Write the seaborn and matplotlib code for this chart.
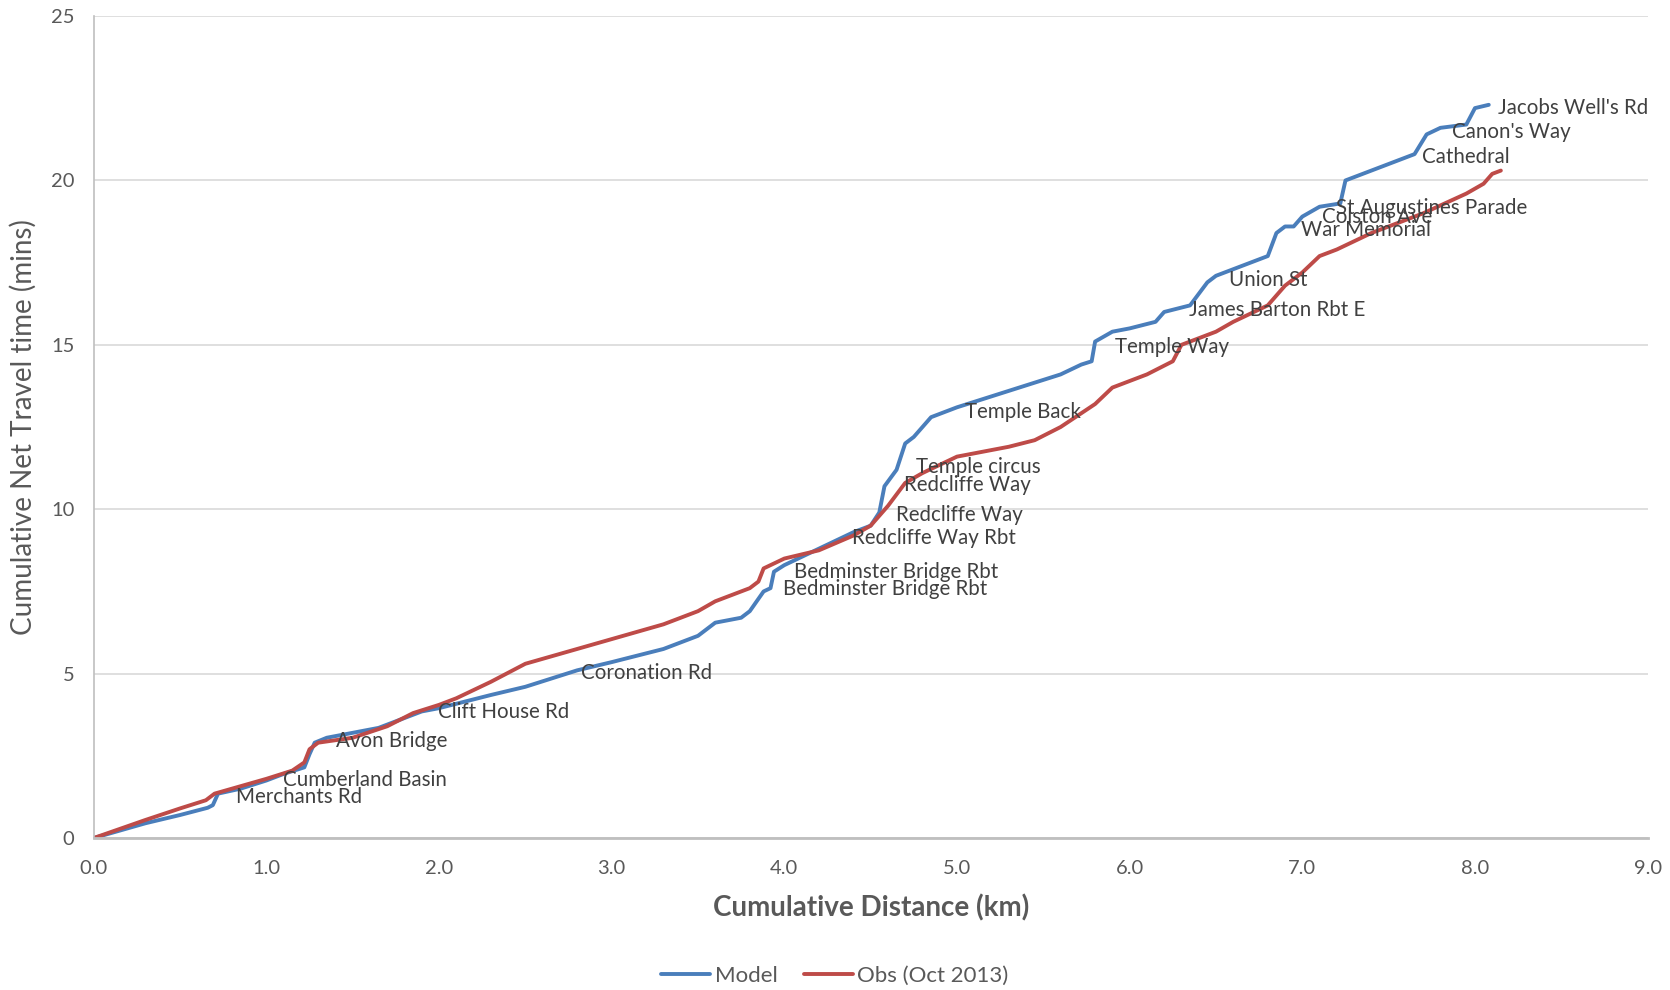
import numpy as np
import pandas as pd
import matplotlib
matplotlib.use("Agg")
import matplotlib.pyplot as plt
import seaborn as sns

# Modelled cumulative travel time along the route
model_km = [0.00, 0.30, 0.50, 0.66, 0.69, 0.72, 0.85, 1.00, 1.10, 1.22, 1.25, 1.28, 1.35,
            1.50, 1.65, 1.80, 1.90, 2.00, 2.30, 2.50, 2.80, 3.00, 3.30, 3.50, 3.60,
            3.75, 3.80, 3.88, 3.92, 3.94, 4.00, 4.20, 4.40, 4.50, 4.55, 4.58, 4.65,
            4.70, 4.75, 4.85, 5.00, 5.30, 5.60, 5.72, 5.78, 5.80, 5.90, 6.00, 6.15,
            6.20, 6.35, 6.45, 6.50, 6.70, 6.80, 6.85, 6.90, 6.95, 7.00, 7.10, 7.22,
            7.25, 7.40, 7.65, 7.72, 7.80, 7.95, 8.00, 8.08]
model_min = [0.00, 0.45, 0.70, 0.92, 1.00, 1.35, 1.50, 1.75, 1.95, 2.15, 2.55, 2.90, 3.05,
             3.20, 3.35, 3.65, 3.85, 3.95, 4.35, 4.60, 5.10, 5.35, 5.75, 6.15, 6.55,
             6.70, 6.90, 7.50, 7.60, 8.10, 8.30, 8.80, 9.30, 9.50, 9.90, 10.70, 11.20,
             12.00, 12.20, 12.80, 13.10, 13.60, 14.10, 14.40, 14.50, 15.10, 15.40, 15.50, 15.70,
             16.00, 16.20, 16.90, 17.10, 17.50, 17.70, 18.40, 18.60, 18.60, 18.90, 19.20, 19.30,
             20.00, 20.30, 20.80, 21.40, 21.60, 21.70, 22.20, 22.30]

# Observed cumulative travel time (Oct 2013 survey)
obs_km = [0.00, 0.30, 0.50, 0.65, 0.70, 0.80, 1.00, 1.15, 1.22, 1.25, 1.30, 1.50, 1.70,
          1.85, 2.00, 2.10, 2.30, 2.50, 2.70, 3.00, 3.30, 3.50, 3.60, 3.80, 3.85,
          3.88, 4.00, 4.20, 4.40, 4.50, 4.60, 4.70, 4.80, 5.00, 5.30, 5.45, 5.60,
          5.80, 5.90, 6.10, 6.25, 6.30, 6.50, 6.60, 6.80, 6.90, 7.00, 7.10, 7.20,
          7.40, 7.70, 7.95, 8.05, 8.10, 8.15]
obs_min = [0.00, 0.55, 0.90, 1.15, 1.35, 1.50, 1.80, 2.05, 2.30, 2.70, 2.90, 3.05, 3.40,
           3.80, 4.05, 4.25, 4.75, 5.30, 5.60, 6.05, 6.50, 6.90, 7.20, 7.60, 7.80,
           8.20, 8.50, 8.75, 9.20, 9.50, 10.10, 10.80, 11.10, 11.60, 11.90, 12.10, 12.50,
           13.20, 13.70, 14.10, 14.50, 15.00, 15.40, 15.70, 16.20, 16.80, 17.20, 17.70, 17.90,
           18.40, 19.00, 19.60, 19.90, 20.20, 20.30]

# Timing points along the route
stop_names = ["Merchants Rd", "Cumberland Basin", "Avon Bridge", "Clift House Rd",
              "Coronation Rd", "Bedminster Bridge Rbt", "Bedminster Bridge Rbt",
              "Redcliffe Way Rbt", "Redcliffe Way", "Redcliffe Way", "Temple circus",
              "Temple Back", "Temple Way", "James Barton Rbt E", "Union St",
              "War Memorial", "Colston Ave", "St Augustines Parade", "Cathedral",
              "Canon's Way", "Jacobs Well's Rd"]
stop_km = [0.80, 1.07, 1.38, 1.97, 2.80, 3.97, 4.03, 4.37, 4.62, 4.67, 4.74,
           5.02, 5.89, 6.32, 6.55, 6.97, 7.09, 7.17, 7.67, 7.84, 8.11]
stop_min = [1.26, 1.75, 2.95, 3.82, 5.02, 7.58, 8.10, 9.13, 9.81, 10.75, 11.27,
            12.95, 14.93, 16.06, 16.97, 18.50, 18.88, 19.17, 20.70, 21.47, 22.20]

series_names = ["Model", "Obs (Oct 2013)"]
series_colors = ["#4A7EBB", "#BE4B48"]

df = pd.concat([
    pd.DataFrame({"km": model_km, "mins": model_min, "series": series_names[0]}),
    pd.DataFrame({"km": obs_km, "mins": obs_min, "series": series_names[1]}),
], ignore_index=True)

sns.set_theme(style="white")
plt.rcParams["font.family"] = ["Lato", "DejaVu Sans"]

fig = plt.figure(figsize=(16.7, 9.9), dpi=100)
ax = fig.add_axes([0.0561, 0.1535, 0.9305, 0.8303])

sns.lineplot(data=df, x="km", y="mins", hue="series", hue_order=series_names,
             palette=series_colors, linewidth=2.8, sort=False, estimator=None,
             ax=ax, legend=True, solid_joinstyle="round", solid_capstyle="round")

text_color = "#404040"
for name, x, y in zip(stop_names, stop_km, stop_min):
    ax.annotate(name, (x, y), xytext=(3, 0), textcoords="offset points",
                ha="left", va="center", fontsize=14.8, color=text_color)

ax.set_xlim(0, 9)
ax.set_ylim(0, 25)
ax.set_xticks(np.arange(0, 9.5, 1.0))
ax.set_xticklabels([f"{v:.1f}" for v in np.arange(0, 9.5, 1.0)])
ax.set_yticks(np.arange(0, 26, 5))
ax.tick_params(axis="both", labelsize=14.5, labelcolor="#595959", length=0)
ax.tick_params(axis="x", pad=16)
ax.tick_params(axis="y", pad=14)

ax.grid(axis="y", color="#D9D9D9", linewidth=1.2)
ax.grid(axis="x", visible=False)
for side in ["top", "right"]:
    ax.spines[side].set_visible(False)
ax.spines["left"].set_color("#BFBFBF")
ax.spines["left"].set_linewidth(1.2)
ax.spines["bottom"].set_color("#BFBFBF")
ax.spines["bottom"].set_linewidth(2.0)

ax.set_xlabel("Cumulative Distance (km)", fontsize=20, fontweight="bold",
              color="#595959", labelpad=12)
ax.set_ylabel("Cumulative Net Travel time (mins)", fontsize=20,
              color="#595959", labelpad=10)

handles, labels = ax.get_legend_handles_labels()
ax.legend(handles, labels, loc="center", bbox_to_anchor=(0.5, 0.014),
          bbox_transform=fig.transFigure, ncol=2, frameon=False,
          fontsize=16, handlelength=2.2, handletextpad=0.2, columnspacing=1.2,
          labelcolor="#595959")

fig.savefig("out.png", dpi=100)
